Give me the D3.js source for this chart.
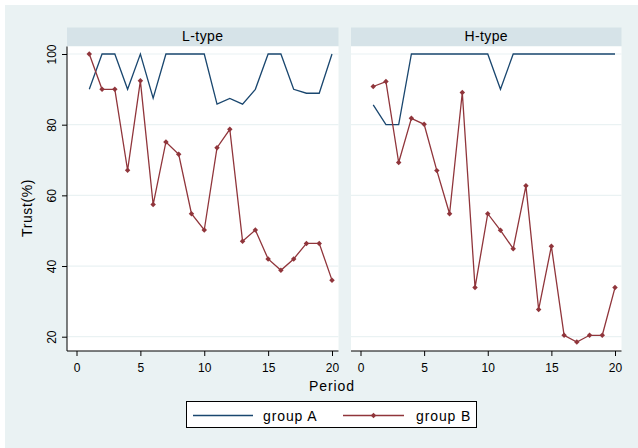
<!DOCTYPE html>
<html>
<head>
<meta charset="utf-8">
<script src="https://cdn.jsdelivr.net/npm/d3@7"></script>
<style>
  body { margin: 0; background: #fff; }
  text { font-family: Arial, "Liberation Sans", sans-serif; fill: #000; }
</style>
</head>
<body>
<svg id="chart" width="638" height="448"></svg>
<script>
// data
const periods = [1, 2, 3, 4, 5, 6, 7, 8, 9, 10, 11, 12, 13, 14, 15, 16, 17, 18, 19, 20];
const lTypeA = [90, 100, 100, 90, 100, 87.5, 100, 100, 100, 100, 85.8, 87.4, 85.8, 90, 100, 100, 90, 88.9, 88.9, 100];
const lTypeB = [100, 90, 90, 67.1, 92.4, 57.4, 75.1, 71.6, 54.8, 50.2, 73.5, 78.7, 47, 50.2, 42, 38.8, 42, 46.4, 46.4, 36];
const hTypeA = [85.6, 80, 80, 100, 100, 100, 100, 100, 100, 100, 90, 100, 100, 100, 100, 100, 100, 100, 100, 100];
const hTypeB = [90.8, 92.2, 69.3, 81.8, 80.1, 67, 54.8, 89.1, 33.9, 54.8, 50.1, 44.9, 62.7, 27.7, 45.6, 20.4, 18.5, 20.4, 20.4, 33.9];
const panelNames = ['L-type', 'H-type'];
const seriesNames = ['group A', 'group B'];
const xTicks = [0, 5, 10, 15, 20];
const yTicks = [20, 40, 60, 80, 100];

const navy = '#1a476f';
const maroon = '#90353b';

const svg = d3.select('#chart');

// graph region
svg.append('rect')
  .attr('x', 5).attr('y', 5)
  .attr('width', 633).attr('height', 443)
  .attr('fill', '#eaf2f3');

const plotTop = 46.5, plotBottom = 351;
const panels = [
  { name: panelNames[0], x0: 67, x1: 338.5, a: lTypeA, b: lTypeB },
  { name: panelNames[1], x0: 351, x1: 621.5, a: hTypeA, b: hTypeB }
];

const y = d3.scaleLinear().domain([20, 100]).range([336.7, 54]);
const diamond = d3.symbol().type(d3.symbolSquare).size(15);

panels.forEach((p, i) => {
  const x = d3.scaleLinear().domain([0, 20]).range([p.x0 + 9.5, p.x1 - 6.5]);
  const g = svg.append('g');

  // header strip
  g.append('rect')
    .attr('x', p.x0).attr('y', 27.5)
    .attr('width', p.x1 - p.x0).attr('height', 18.5)
    .attr('fill', '#d6e3e8');
  g.append('text')
    .attr('x', (p.x0 + p.x1) / 2).attr('y', 41)
    .attr('text-anchor', 'middle')
    .style('font-size', '14px')
    .style('letter-spacing', '0.4px')
    .text(p.name);

  // plot area
  g.append('rect')
    .attr('x', p.x0).attr('y', plotTop)
    .attr('width', p.x1 - p.x0).attr('height', plotBottom - plotTop)
    .attr('fill', '#fff');

  // gridlines
  g.append('g')
    .selectAll('line')
    .data(yTicks)
    .join('line')
    .attr('x1', p.x0).attr('x2', p.x1)
    .attr('y1', d => y(d)).attr('y2', d => y(d))
    .attr('stroke', '#eaf2f3')
    .attr('stroke-width', 1.2);

  // x axis
  const xa = g.append('g')
    .attr('transform', `translate(0,${plotBottom})`)
    .call(d3.axisBottom(x).tickValues(xTicks).tickSize(5).tickPadding(7));
  xa.select('.domain').remove();
  xa.selectAll('.tick line').attr('stroke', '#000');
  xa.selectAll('.tick text')
    .style('font-size', '12px')
    .attr('font-family', null)
    .attr('fill', '#000');
  g.append('line')
    .attr('x1', p.x0).attr('x2', p.x1)
    .attr('y1', plotBottom).attr('y2', plotBottom)
    .attr('stroke', '#000');

  // y axis only on first panel
  if (i === 0) {
    const ya = g.append('g')
      .attr('transform', `translate(${p.x0},0)`)
      .call(d3.axisLeft(y).tickValues(yTicks).tickSize(5));
    ya.select('.domain').remove();
    ya.selectAll('.tick line').attr('stroke', '#000');
    ya.selectAll('.tick text').remove();
    ya.selectAll('.tick')
      .append('text')
      .attr('transform', 'translate(-11,0) rotate(-90)')
      .attr('text-anchor', 'middle')
      .style('font-size', '12px')
      .text(d => d);
    g.append('line')
      .attr('x1', p.x0).attr('x2', p.x0)
      .attr('y1', plotTop).attr('y2', plotBottom)
      .attr('stroke', '#000');
  }

  const line = (vals) => d3.line()
    .x((d, k) => x(periods[k]))
    .y(d => y(d))(vals);

  g.append('path')
    .attr('d', line(p.a))
    .attr('fill', 'none')
    .attr('stroke', navy)
    .attr('stroke-width', 1.3);

  g.append('path')
    .attr('d', line(p.b))
    .attr('fill', 'none')
    .attr('stroke', maroon)
    .attr('stroke-width', 1.3);

  g.append('g')
    .selectAll('path')
    .data(p.b)
    .join('path')
    .attr('d', diamond)
    .attr('transform', (d, k) => `translate(${x(periods[k])},${y(d)}) rotate(45)`)
    .attr('fill', maroon);
});

// axis titles
svg.append('text')
  .attr('transform', 'translate(32,208) rotate(-90)')
  .attr('text-anchor', 'middle')
  .style('font-size', '14px')
  .style('letter-spacing', '0.6px')
  .text('Trust(%)');

svg.append('text')
  .attr('x', 332).attr('y', 390.5)
  .attr('text-anchor', 'middle')
  .style('font-size', '14px')
  .style('letter-spacing', '0.9px')
  .text('Period');

// legend
const leg = svg.append('g');
leg.append('rect')
  .attr('x', 186.5).attr('y', 401.5)
  .attr('width', 290).attr('height', 26)
  .attr('fill', '#fff')
  .attr('stroke', '#000');

const legItems = [
  { name: seriesNames[0], color: navy, x1: 193, x2: 253, tx: 263, marker: false },
  { name: seriesNames[1], color: maroon, x1: 343, x2: 404, tx: 416, marker: true }
];
legItems.forEach(it => {
  leg.append('line')
    .attr('x1', it.x1).attr('x2', it.x2)
    .attr('y1', 415.5).attr('y2', 415.5)
    .attr('stroke', it.color)
    .attr('stroke-width', 1.3);
  if (it.marker) {
    leg.append('path')
      .attr('d', diamond)
      .attr('transform', `translate(${(it.x1 + it.x2) / 2},415.5) rotate(45)`)
      .attr('fill', it.color);
  }
  leg.append('text')
    .attr('x', it.tx).attr('y', 420.5)
    .style('font-size', '14px')
    .style('letter-spacing', '0.9px')
    .text(it.name);
});
</script>
</body>
</html>
